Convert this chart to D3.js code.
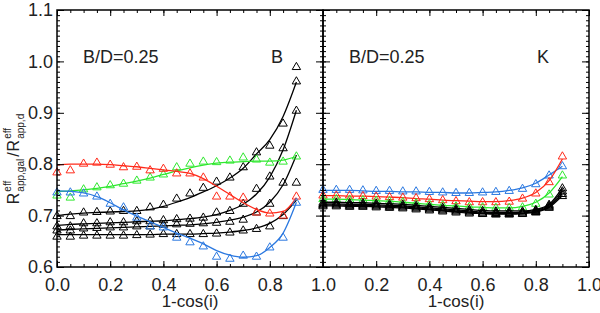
<!DOCTYPE html>
<html lang="en">
<head>
<meta charset="utf-8">
<title>Reff ratio vs inclination</title>
<script src="https://d3js.org/d3.v7.min.js"></script>
<style>
  body { margin: 0; background: #fff; }
  text { font-family: "Liberation Sans", Arial, sans-serif; fill: #222; }
</style>
</head>
<body>
<script>
// 1-cos(i) grid of the models
var incl = [0.00, 0.05, 0.10, 0.15, 0.20, 0.25, 0.30, 0.35, 0.40, 0.45,
            0.50, 0.55, 0.60, 0.65, 0.70, 0.75, 0.80, 0.85, 0.90];
var xTicks = [0.0, 0.2, 0.4, 0.6, 0.8, 1.0];
var yTicks = [0.6, 0.7, 0.8, 0.9, 1.0, 1.1];
var bdLabel = "B/D=0.25";
var bandLabels = ["B", "K"];

// B band: measured points and fitted curves
var bRed      = [0.785,0.789,0.802,0.804,0.800,0.795,0.796,0.789,0.792,0.783,0.783,0.775,0.738,0.738,0.736,0.707,0.705,0.701,0.738];
var bRedFit   = [0.798,0.800,0.800,0.800,0.799,0.797,0.795,0.792,0.789,0.786,0.782,0.772,0.757,0.741,0.725,0.712,0.705,0.708,0.735];
var bGreen    = [0.740,0.736,0.752,0.756,0.760,0.763,0.769,0.775,0.781,0.795,0.802,0.806,0.805,0.808,0.814,0.810,0.804,0.806,0.816];
var bGreenFit = [0.747,0.748,0.750,0.753,0.757,0.762,0.767,0.773,0.780,0.787,0.793,0.798,0.802,0.804,0.805,0.806,0.806,0.808,0.815];
var bBlue     = [0.746,0.746,0.744,0.738,0.724,0.717,0.697,0.680,0.678,0.658,0.649,0.641,0.621,0.617,0.623,0.621,0.639,0.658,0.726];
var bBlueFit  = [0.748,0.747,0.744,0.737,0.725,0.711,0.699,0.688,0.677,0.666,0.656,0.645,0.632,0.623,0.619,0.622,0.638,0.666,0.726];
var bBlk1     = [0.700,0.700,0.707,0.708,0.709,0.710,0.710,0.717,0.722,0.734,0.744,0.755,0.767,0.775,0.795,0.824,0.837,0.880,0.990];
var bBlk1Fit  = [0.700,0.703,0.705,0.706,0.707,0.708,0.709,0.712,0.718,0.726,0.735,0.746,0.758,0.773,0.792,0.820,0.848,0.893,0.960];
var bBlk2     = [0.680,0.680,0.686,0.686,0.688,0.688,0.690,0.690,0.692,0.694,0.695,0.697,0.707,0.710,0.724,0.753,0.777,0.832,0.962];
var bBlk2Fit  = [0.681,0.683,0.684,0.685,0.686,0.687,0.688,0.689,0.690,0.692,0.694,0.697,0.702,0.710,0.722,0.742,0.775,0.828,0.905];
var bBlk3     = [0.672,0.672,0.676,0.677,0.678,0.678,0.680,0.680,0.683,0.684,0.685,0.686,0.687,0.689,0.693,0.707,0.724,0.765,0.905];
var bBlk3Fit  = [0.672,0.673,0.674,0.675,0.676,0.677,0.678,0.679,0.680,0.681,0.682,0.684,0.687,0.691,0.697,0.707,0.726,0.760,0.818];
var bBlk4     = [0.660,0.660,0.662,0.662,0.662,0.662,0.663,0.664,0.665,0.665,0.665,0.665,0.666,0.668,0.672,0.675,0.680,0.700,0.765];
var bBlk4Fit  = [0.663,0.663,0.663,0.663,0.663,0.663,0.663,0.663,0.664,0.664,0.664,0.665,0.666,0.668,0.671,0.676,0.685,0.702,0.730];

// K band
var kBlue     = [0.751,0.751,0.751,0.750,0.749,0.749,0.748,0.748,0.747,0.746,0.745,0.745,0.746,0.747,0.749,0.753,0.762,0.779,0.797];
var kBlueFit  = [0.749,0.749,0.749,0.748,0.747,0.747,0.746,0.746,0.745,0.745,0.744,0.744,0.745,0.746,0.749,0.754,0.763,0.779,0.796];
var kRed      = [0.740,0.740,0.740,0.739,0.738,0.737,0.736,0.735,0.733,0.731,0.729,0.727,0.727,0.727,0.728,0.734,0.744,0.766,0.816];
var kRedFit   = [0.739,0.739,0.738,0.738,0.737,0.736,0.735,0.733,0.732,0.730,0.729,0.728,0.727,0.727,0.729,0.734,0.745,0.768,0.810];
var kGreen    = [0.733,0.733,0.732,0.731,0.730,0.729,0.727,0.725,0.723,0.721,0.719,0.718,0.717,0.716,0.716,0.717,0.724,0.742,0.779];
var kGreenFit = [0.732,0.732,0.731,0.730,0.729,0.728,0.726,0.724,0.722,0.720,0.719,0.717,0.716,0.715,0.715,0.718,0.726,0.744,0.776];
var kBlk1     = [0.726,0.726,0.725,0.725,0.724,0.723,0.722,0.720,0.718,0.716,0.714,0.712,0.710,0.709,0.709,0.709,0.712,0.722,0.754];
var kBlk2     = [0.723,0.723,0.722,0.722,0.721,0.720,0.719,0.717,0.715,0.713,0.711,0.709,0.707,0.706,0.706,0.707,0.710,0.720,0.748];
var kBlk3     = [0.721,0.721,0.720,0.720,0.719,0.718,0.717,0.715,0.713,0.711,0.709,0.707,0.705,0.704,0.704,0.705,0.708,0.718,0.743];
var kBlk4     = [0.719,0.719,0.718,0.718,0.717,0.716,0.715,0.713,0.711,0.709,0.707,0.705,0.704,0.703,0.703,0.704,0.707,0.716,0.739];

var RED = "#ff2a1a", GREEN = "#2ee82e", BLUE = "#2a78e0", BLACK = "#000";

var panels = [
  { x0: 57, x1: 323, band: bandLabels[0], labels: xTicks, showY: true,
    series: [
      { c: BLACK, pts: bBlk1, fit: bBlk1Fit },
      { c: BLACK, pts: bBlk2, fit: bBlk2Fit },
      { c: BLACK, pts: bBlk3, fit: bBlk3Fit },
      { c: BLACK, pts: bBlk4, fit: bBlk4Fit },
      { c: GREEN, pts: bGreen, fit: bGreenFit },
      { c: RED, pts: bRed, fit: bRedFit },
      { c: BLUE, pts: bBlue, fit: bBlueFit }
    ] },
  { x0: 323, x1: 589, band: bandLabels[1], labels: xTicks.slice(1), showY: false,
    series: [
      { c: BLUE, pts: kBlue, fit: kBlueFit },
      { c: RED, pts: kRed, fit: kRedFit },
      { c: GREEN, pts: kGreen, fit: kGreenFit },
      { c: BLACK, pts: kBlk1, fit: kBlk1 },
      { c: BLACK, pts: kBlk2, fit: kBlk2 },
      { c: BLACK, pts: kBlk3, fit: kBlk3 },
      { c: BLACK, pts: kBlk4, fit: kBlk4 }
    ] }
];

var width = 600, height = 313, plotTop = 10, plotBottom = 267;

var svg = d3.select("body").append("svg")
    .attr("width", width)
    .attr("height", height);

var y = d3.scaleLinear().domain([0.6, 1.1]).range([plotBottom, plotTop]);
var xMinor = d3.range(0, 1.0001, 0.05);
var yMinor = d3.range(0.6, 1.1001, 0.01);

var tri = "M-4.2,3 L4.2,3 L0,-4.2 Z";

panels.forEach(function(p) {
  var x = d3.scaleLinear().domain([0, 1]).range([p.x0, p.x1]);
  var g = svg.append("g");

  // curves and markers
  var line = d3.line()
      .x(function(d, i) { return x(incl[i]); })
      .y(function(d) { return y(d); })
      .curve(d3.curveMonotoneX);

  p.series.forEach(function(s) {
    g.append("path")
        .attr("d", line(s.fit))
        .attr("fill", "none")
        .attr("stroke", s.c)
        .attr("stroke-width", 1.3);
    g.selectAll(null)
        .data(s.pts)
        .enter().append("path")
        .attr("d", tri)
        .attr("transform", function(d, i) { return "translate(" + x(incl[i]) + "," + y(d) + ")"; })
        .attr("fill", "none")
        .attr("stroke", s.c)
        .attr("stroke-width", 1);
  });

  // inward ticks on all four sides
  function ticks(axis, tr) {
    var a = g.append("g").attr("transform", tr).call(axis);
    a.select(".domain").remove();
    a.selectAll("line").attr("stroke", "#000").attr("stroke-width", 1);
    return a;
  }
  ticks(d3.axisBottom(x).tickValues(xMinor).tickSize(-3).tickFormat(""), "translate(0," + plotBottom + ")");
  ticks(d3.axisTop(x).tickValues(xMinor).tickSize(-3).tickFormat(""), "translate(0," + plotTop + ")");
  ticks(d3.axisTop(x).tickValues(xTicks).tickSize(-6).tickFormat(""), "translate(0," + plotTop + ")");
  var xb = ticks(d3.axisBottom(x).tickValues(p.labels).tickSize(-6).tickPadding(11)
      .tickFormat(d3.format(".1f")), "translate(0," + plotBottom + ")");
  xb.selectAll("text").style("font-size", "18px").attr("fill", "#222");

  ticks(d3.axisLeft(y).tickValues(yMinor).tickSize(-3).tickFormat(""), "translate(" + p.x0 + ",0)");
  ticks(d3.axisRight(y).tickValues(yMinor).tickSize(-3).tickFormat(""), "translate(" + p.x1 + ",0)");
  ticks(d3.axisRight(y).tickValues(yTicks).tickSize(-7).tickFormat(""), "translate(" + p.x1 + ",0)");
  var yl = ticks(d3.axisLeft(y).tickValues(yTicks).tickSize(-7).tickPadding(4)
      .tickFormat(p.showY ? d3.format(".1f") : ""), "translate(" + p.x0 + ",0)");
  yl.selectAll("text").style("font-size", "18px").attr("fill", "#222");

  g.append("rect")
      .attr("x", p.x0).attr("y", plotTop)
      .attr("width", p.x1 - p.x0).attr("height", plotBottom - plotTop)
      .attr("fill", "none").attr("stroke", "#000").attr("stroke-width", 1.5);

  g.append("text")
      .attr("x", p.x0 + 26).attr("y", 63)
      .style("font-size", "18px")
      .text(bdLabel);
  g.append("text")
      .attr("x", p.x0 + 214).attr("y", 63)
      .style("font-size", "18px")
      .text(p.band);

  g.append("text")
      .attr("x", (p.x0 + p.x1) / 2).attr("y", 307)
      .attr("text-anchor", "middle")
      .style("font-size", "17px")
      .text("1-cos(i)");
});

// y axis title: R^eff_app,gal / R^eff_app,d
var yt = svg.append("g").attr("transform", "translate(19,158) rotate(-90)");
var inner = yt.append("g");
var cx = 0;
[["R", "eff", "app,gal"], [" /", null, null], ["R", "eff", "app,d"]].forEach(function(part) {
  var t = inner.append("text").attr("x", cx).attr("y", 0)
      .style("font-size", "16px").text(part[0]);
  cx += t.node().getComputedTextLength() + 1;
  if (part[1]) {
    var sup = inner.append("text").attr("x", cx).attr("y", -8)
        .style("font-size", "10px").text(part[1]);
    var sub = inner.append("text").attr("x", cx).attr("y", 5)
        .style("font-size", "10px").text(part[2]);
    cx += Math.max(sup.node().getComputedTextLength(), sub.node().getComputedTextLength()) + 2;
  }
});
inner.attr("transform", "translate(" + (-cx / 2) + ",0)");
</script>
</body>
</html>
